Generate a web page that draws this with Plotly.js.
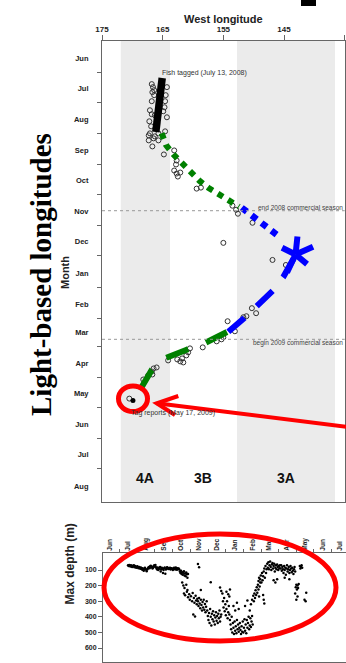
<!DOCTYPE html>
<html><head><meta charset="utf-8">
<script src="https://cdn.plot.ly/plotly-3.0.1.min.js"></script>
<style>html,body{margin:0;padding:0;background:#fff}#chart{width:346px;height:663px}</style>
</head><body><div id="chart"></div>
<script>
// ---------- data (longitude in deg W, days after 2008-06-01) ----------
const lonTicks = [175, 165, 155, 145, 135];
const monthNames = ['Jun','Jul','Aug','Sep','Oct','Nov','Dec','Jan','Feb','Mar','Apr','May','Jun','Jul','Aug'];
const monthStarts = ['2008-06-01','2008-07-01','2008-08-01','2008-09-01','2008-10-01','2008-11-01','2008-12-01',
  '2009-01-01','2009-02-01','2009-03-01','2009-04-01','2009-05-01','2009-06-01','2009-07-01','2009-08-01'];
const monthMids = ['2008-06-15','2008-07-15','2008-08-15','2008-09-15','2008-10-15','2008-11-15','2008-12-15',
  '2009-01-15','2009-02-15','2009-03-15','2009-04-15','2009-05-15','2009-06-15','2009-07-15'];
const depthMonthNames = ['Jun','Jul','Aug','Sep','Oct','Nov','Dec','Jan','Feb','Mar','Apr','May','Jun','Jul'];
const depthMonthStarts = monthStarts.slice(0, 14);
const depthMonthMids = ['2008-06-17','2008-07-17','2008-08-17','2008-09-17','2008-10-17','2008-11-17','2008-12-17',
  '2009-01-17','2009-02-17','2009-03-17','2009-04-17','2009-05-17','2009-06-17'];
const depthTicks = [100, 200, 300, 400, 500, 600];

const areaNames = ['4A', '3B', '3A'];
const areaWest = [171.9, 163.8, 152.75];
const areaEast = [163.8, 152.75, 136.6];
const areaShaded = [true, false, true];

const seasonDates = ['2008-10-31', '2009-03-08'];
const seasonLabels = ['end 2008 commercial season', 'begin 2009 commercial season'];

// light-based longitude estimates (open circles)
const circLon = [166.8,166.6,166.4,166.7,166.4,166.8,167.1,166.8,167.2,166.9,166.3,164.3,164.5,164.6,164.7,164.9,164.3,
  164.6,167.1,166.3,165.7,167.3,166.5,165.7,167.3,166.7,164.8,163.1,162.7,162.8,163.1,162.7,162.1,162.5,159.4,158.7,
  153.5,152.9,152.6,150.2,155.0,146.9,144.7,150.3,149.6,151.2,151.7,154.3,153.1,155.0,155.3,156.1,158.4,160.5,160.8,
  161.1,161.8,162.1,161.6,162.6,164.1,166.0,166.5,166.8,166.7,167.4,168.2,170.5];
const circDay = [26,29,32,34,37,43,52,56,63,68,57,29,37,43,49,53,59,
  73,75,78,75,77,80,82,82,88,96,92,102,106,112,115,114,118,130,129,
  147,151,155,164,184,201,206,249,254,257,258,262,272,278,280,282,288,289,293,
  296,299,302,303,300,301,308,309,312,315,316,320,339];
const tagLon = [169.9];
const tagDay = [341];

// model track segments
const blackLon = [165.08, 166.13];
const blackDay = [19.9, 73.7];
const greenDotLon = [165.16,164.45,163.25,161.86,160.5,158.96,157.48,155.72,154.07,152.42];
const greenDotDay = [74.9,86.6,95.8,104.8,113.8,122.1,129.1,135.7,142,148];
const blueDotLon = [151.97,150.23,148.68,147.14,145.55];
const blueDotDay = [149,157,163.5,171.2,178.9];
const starLon = 143.1;
const starDay = 195.6;
const blueDashLon = [143.39,145.08,146.81,149.5,151.6,154.18];
const blueDashDay = [199.3,217.5,231.4,247.5,259.1,272.4];
const greenDashLon = [154.4,158.02,161.15,164.62,166.81,168.74];
const greenDashDay = [272.7,283.7,290.6,298.9,310.5,330.4];

// archival tag daily max depth (m)
const depthDay = [31,32,33,34,35,36,37,38,39,40,41,42,43,44,45,46,47,48,49,50,51,52,53,54,55,56,57,58,59,60,
  61,62,63,64,65,66,67,68,69,70,71,72,73,74,75,76,77,78,79,80,81,82,83,84,85,86,87,88,89,90,
  91,92,93,94,95,96,97,98,99,100,101,102,103,104,105,106,107,108,109,110,111,112,113,114,115,116,117,118,119,
  120,121,122,123,124,125,126,127,128,129,130,131,132,133,134,151,153,
  124,126,128,131,133,127,129,132,134,136,137,139,141,142,144,145,147,148,149,150,143,146,
  151,152,153,154,155,156,157,158,159,160,161,162,163,164,165,166,156,
  167,168,169,170,171,172,173,174,175,176,177,178,179,180,181,182,183,184,185,186,187,188,189,190,191,173,
  189,191,193,194,195,196,197,198,199,200,201,202,203,204,205,200,203,205,206,
  206,207,208,209,210,211,212,213,214,215,216,217,218,219,220,221,222,223,212,215,218,221,
  224,225,226,227,228,229,230,231,232,233,234,235,236,237,238,239,240,241,242,243,244,245,232,236,
  240,242,244,246,247,248,249,250,251,252,253,254,255,256,257,258,255,256,258,259,260,261,262,263,
  263,264,265,264,265,266,267,268,269,
  270,271,272,273,274,275,276,277,278,279,280,281,282,283,284,285,286,287,288,289,290,291,292,281,284,287,
  293,294,295,296,297,298,299,300,301,302,303,304,305,306,307,308,309,310,311,312,313,314,315,316,317,318,308,300,
  319,320,321,322,323,324,318,320,322,326,327,328,329,330,334,336,337];
const depthM = [70,75,68,72,78,70,74,80,72,76,70,82,75,78,85,80,76,84,88,80,86,92,84,90,96,88,100,104,92,86,
  94,98,108,96,90,84,80,88,76,72,82,78,90,86,80,70,74,68,82,90,96,84,100,92,88,80,110,96,86,92,
  120,100,88,84,124,96,90,82,86,94,88,92,85,96,90,88,94,100,92,86,90,96,84,92,98,88,94,90,96,
  110,120,104,126,114,130,118,108,135,122,140,116,128,150,125,62,82,
  180,200,215,195,228,250,262,240,275,255,290,268,300,248,280,310,265,295,320,285,385,398,
  300,330,280,315,345,290,325,360,305,340,290,355,318,370,335,300,228,
  360,395,420,375,440,350,400,455,380,415,365,430,390,450,405,370,425,395,440,380,410,360,430,400,385,178,
  212,235,250,300,340,280,365,320,390,350,300,410,370,330,385,240,255,270,225,
  420,450,480,400,500,440,470,510,430,490,460,505,420,480,450,495,470,440,330,360,310,350,
  485,510,460,495,430,500,470,415,490,450,505,420,470,440,400,480,455,410,465,430,395,450,330,295,
  360,320,290,265,300,250,280,230,260,210,245,195,225,270,205,180,170,150,160,135,180,120,165,140,
  260,290,315,110,90,150,75,120,95,
  60,85,50,95,70,45,80,100,65,55,90,75,60,110,85,70,95,65,80,100,75,88,70,165,180,160,
  90,70,105,80,95,120,75,100,85,130,90,70,110,95,80,120,100,75,90,115,85,105,125,95,80,110,160,150,
  210,195,225,200,215,190,250,290,270,75,90,80,70,85,290,300,245];

// ---------- helpers ----------
const DAY0 = Date.UTC(2008, 5, 1);
const d2s = d => new Date(DAY0 + d * 864e5).toISOString().slice(0, 19).replace('T', ' ');
const W = 346, H = 663;
const px = x => x / W, py = y => 1 - y / H;
const SANS = 'Liberation Sans, Arial, sans-serif';
const AXC = '#666';

const traces = [
  {x: circLon, y: circDay.map(d2s), type: 'scatter', mode: 'markers', xaxis: 'x', yaxis: 'y',
   marker: {symbol: 'circle-open', size: 5, color: '#333', line: {width: 1, color: '#333'}}},
  {x: blackLon, y: blackDay.map(d2s), type: 'scatter', mode: 'lines', xaxis: 'x', yaxis: 'y',
   line: {color: '#000', width: 7.5}},
  {x: greenDotLon, y: greenDotDay.map(d2s), type: 'scatter', mode: 'lines', xaxis: 'x', yaxis: 'y',
   line: {color: '#008000', width: 6, dash: '6px,6px'}},
  {x: blueDotLon, y: blueDotDay.map(d2s), type: 'scatter', mode: 'lines', xaxis: 'x', yaxis: 'y',
   line: {color: '#0000ff', width: 6.5, dash: '6.5px,6px'}},
  {x: blueDashLon, y: blueDashDay.map(d2s), type: 'scatter', mode: 'lines', xaxis: 'x', yaxis: 'y',
   line: {color: '#0000ff', width: 6, dash: '22px,17px'}},
  {x: greenDashLon, y: greenDashDay.map(d2s), type: 'scatter', mode: 'lines', xaxis: 'x', yaxis: 'y',
   line: {color: '#008000', width: 6, dash: '23.5px,19px'}},
  {x: tagLon, y: tagDay.map(d2s), type: 'scatter', mode: 'markers', xaxis: 'x', yaxis: 'y',
   marker: {symbol: 'circle', size: 5, color: '#000'}},
  {x: depthDay.map(d2s), y: depthM, type: 'scatter', mode: 'markers', xaxis: 'x2', yaxis: 'y2',
   marker: {symbol: 'circle', size: 2.5, color: '#000'}}
];

const shapes = [];
areaNames.forEach((n, i) => {
  if (areaShaded[i]) shapes.push({type: 'rect', xref: 'x', yref: 'y domain', x0: areaWest[i], x1: areaEast[i],
    y0: 0, y1: 1, fillcolor: '#ebebeb', line: {width: 0}, layer: 'below'});
});
seasonDates.forEach(d => shapes.push({type: 'line', xref: 'x domain', yref: 'y', x0: 0, x1: 1, y0: d, y1: d,
  line: {color: '#999', width: 1, dash: 'dot'}}));
// red highlight overlays
shapes.push({type: 'circle', xref: 'paper', yref: 'paper', x0: px(104), x1: px(336), y0: py(641), y1: py(534),
  line: {color: '#ff0000', width: 5}});
shapes.push({type: 'circle', xref: 'paper', yref: 'paper', x0: px(118.5), x1: px(147.5), y0: py(411.5), y1: py(386),
  line: {color: '#ff0000', width: 5}});
shapes.push({type: 'path', xref: 'paper', yref: 'paper',
  path: `M${px(350)},${py(427.2)} L${px(156.7)},${py(403.3)}`, line: {color: '#ff0000', width: 4}});
shapes.push({type: 'path', xref: 'paper', yref: 'paper',
  path: `M${px(178.3)},${py(396)} L${px(156.7)},${py(403.3)} L${px(175)},${py(415)}`, line: {color: '#ff0000', width: 4}});
shapes.push({type: 'rect', xref: 'paper', yref: 'paper', x0: px(301), x1: px(316), y0: py(6), y1: py(-2),
  fillcolor: '#000', line: {width: 0}});

const annotations = [
  {xref: 'paper', yref: 'paper', x: px(223), y: py(11), text: 'West longitude', showarrow: false,
   font: {family: SANS, size: 11, color: '#222', weight: 700}},
  {xref: 'paper', yref: 'paper', x: px(23), y: py(275), text: 'Light-based longitudes', textangle: -90, showarrow: false,
   font: {family: 'Liberation Serif, Times New Roman, serif', size: 29, color: '#000', weight: 700}},
  {xref: 'paper', yref: 'paper', x: px(57), y: py(273), text: 'Month', textangle: -90, showarrow: false,
   font: {family: SANS, size: 11, color: '#222', weight: 700}},
  {xref: 'paper', yref: 'paper', x: px(60), y: py(607), text: 'Max depth (m)', textangle: -90, showarrow: false,
   font: {family: SANS, size: 12, color: '#222', weight: 700}},
  {xref: 'x', yref: 'y', x: 165.44, y: d2s(14.9), xanchor: 'left', text: 'Fish tagged (July 13, 2008)', showarrow: false,
   font: {family: SANS, size: 7, color: '#333'}},
  {xref: 'x', yref: 'y', x: 170.55, y: d2s(353.3), xanchor: 'left', text: 'Tag reports (May 17, 2009)', showarrow: false,
   font: {family: SANS, size: 7, color: '#333'}}
];
seasonDates.forEach((d, i) => annotations.push({xref: 'x domain', yref: 'y', x: 1, y: d, xanchor: 'right',
  yanchor: 'middle', yshift: i === 0 ? 3 : -4, xshift: -1, text: seasonLabels[i], showarrow: false, borderpad: 0,
  font: {family: SANS, size: 6.5, color: '#444'}}));
areaNames.forEach((n, i) => annotations.push({xref: 'x', yref: 'paper', x: (areaWest[i] + areaEast[i]) / 2,
  y: py(488), text: n, showarrow: false, font: {family: SANS, size: 14, color: '#111', weight: 700}}));
// five-armed asterisk marking the winter position
const armDX = [2, 18, 12, -9, -14], armDY = [-19, -8, 10, 19, -7];
armDX.forEach((dx, i) => annotations.push({xref: 'x', yref: 'y', x: starLon, y: d2s(starDay), text: ' ',
  font: {size: 1}, borderpad: 0, showarrow: true, axref: 'pixel', ayref: 'pixel', ax: dx, ay: armDY[i],
  arrowhead: 0, arrowwidth: 6, arrowcolor: '#0000ff', standoff: 0, startstandoff: 0}));

const layout = {
  width: W, height: H, margin: {l: 0, r: 0, t: 0, b: 0}, paper_bgcolor: '#fff', plot_bgcolor: '#fff',
  showlegend: false,
  xaxis: {domain: [px(102), px(344.7)], range: [175, 135], side: 'top', anchor: 'y',
    tickmode: 'array', tickvals: lonTicks, ticktext: lonTicks.map(String), ticks: 'outside', ticklen: 5,
    tickcolor: AXC, showline: true, linecolor: AXC, linewidth: 1, mirror: true, showgrid: false, zeroline: false,
    tickfont: {family: SANS, size: 8, color: '#222', weight: 700}},
  yaxis: {domain: [py(502), py(41)], type: 'date', range: ['2009-08-16 22:00', '2008-05-15 02:00'], anchor: 'x',
    tickmode: 'array', tickvals: monthStarts, ticktext: monthNames, ticks: '', ticklabelstandoff: 11,
    minor: {tickmode: 'array', tickvals: monthMids, ticks: 'outside', ticklen: 4, tickcolor: AXC, showgrid: false},
    showline: true, linecolor: AXC, linewidth: 1, mirror: true, showgrid: false, zeroline: false,
    tickfont: {family: SANS, size: 7.5, color: '#222', weight: 700}},
  xaxis2: {domain: [px(103), 1], type: 'date', range: ['2008-05-19 23:30', '2009-07-11 07:00'], side: 'top',
    anchor: 'y2', tickmode: 'array', tickvals: depthMonthStarts, ticktext: depthMonthNames, tickangle: -90, ticks: '',
    minor: {tickmode: 'array', tickvals: depthMonthMids, ticks: 'outside', ticklen: 3, tickcolor: AXC, showgrid: false},
    showline: true, linecolor: AXC, linewidth: 1, mirror: true, showgrid: false, zeroline: false,
    tickfont: {family: SANS, size: 6.5, color: '#222', weight: 700}},
  yaxis2: {domain: [py(662), py(553)], range: [689.7, -9], anchor: 'x2', tickmode: 'array', tickvals: depthTicks,
    ticks: 'outside', ticklen: 4, tickcolor: AXC, showline: true, linecolor: AXC, linewidth: 1, mirror: true,
    showgrid: false, zeroline: false, tickfont: {family: SANS, size: 7, color: '#222', weight: 700}},
  shapes: shapes, annotations: annotations
};

Plotly.newPlot('chart', traces, layout, {displayModeBar: false, staticPlot: true});
</script></body></html>
